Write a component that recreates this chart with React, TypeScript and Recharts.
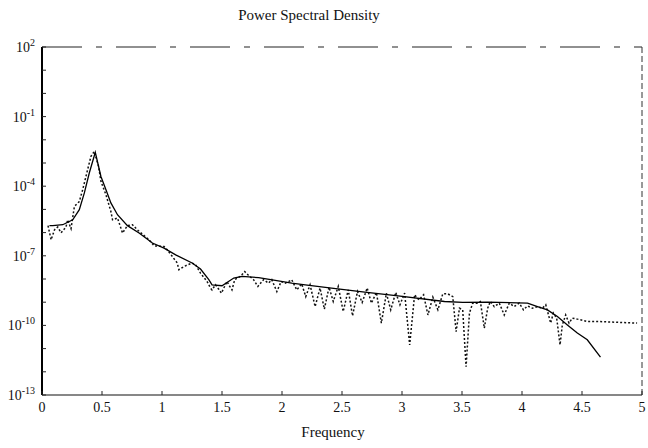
import React from "react";
import { LineChart, Line, XAxis, YAxis, ReferenceLine } from "recharts";

// frequency / log10(power) pairs
const modelFreq = [0.062, 0.09, 0.173, 0.256, 0.311, 0.353, 0.394, 0.444, 0.491, 0.533, 0.574, 0.629, 0.712, 0.809, 0.92, 1.017, 1.114, 1.251, 1.321, 1.39, 1.417, 1.5, 1.598, 1.666, 1.805, 1.944, 2.081, 2.193, 2.413, 2.69, 2.967, 3.354, 3.506, 3.714, 4.046, 4.129, 4.212, 4.295, 4.378, 4.461, 4.544, 4.654];
const modelLogPsd = [-5.7, -5.7, -5.66, -5.45, -5.01, -4.29, -3.43, -2.54, -3.58, -4.15, -4.72, -5.23, -5.7, -6.02, -6.45, -6.67, -6.96, -7.31, -7.57, -8.03, -8.25, -8.29, -7.96, -7.89, -7.94, -8.06, -8.18, -8.25, -8.39, -8.57, -8.73, -8.97, -9.01, -9.0, -9.04, -9.19, -9.33, -9.62, -9.98, -10.33, -10.62, -11.37];

const periodFreq = [0.05, 0.076, 0.104, 0.131, 0.159, 0.2, 0.214, 0.242, 0.27, 0.311, 0.339, 0.38, 0.408, 0.436, 0.471, 0.491, 0.533, 0.574, 0.588, 0.629, 0.657, 0.671, 0.712, 0.754, 0.795, 0.892, 0.934, 1.017, 1.044, 1.127, 1.141, 1.183, 1.251, 1.28, 1.321, 1.376, 1.404, 1.417, 1.446, 1.473, 1.495, 1.515, 1.542, 1.556, 1.583, 1.606, 1.653, 1.689, 1.716, 1.763, 1.799, 1.846, 1.888, 1.915, 1.957, 1.993, 2.027, 2.054, 2.081, 2.123, 2.164, 2.198, 2.234, 2.276, 2.317, 2.353, 2.392, 2.427, 2.469, 2.51, 2.552, 2.588, 2.629, 2.668, 2.71, 2.745, 2.787, 2.828, 2.87, 2.906, 2.948, 2.983, 3.022, 3.064, 3.105, 3.141, 3.18, 3.216, 3.257, 3.299, 3.34, 3.382, 3.423, 3.451, 3.479, 3.506, 3.534, 3.562, 3.589, 3.625, 3.653, 3.686, 3.714, 3.736, 3.769, 3.811, 3.852, 3.894, 3.935, 3.977, 4.012, 4.046, 4.087, 4.129, 4.17, 4.198, 4.239, 4.261, 4.289, 4.317, 4.336, 4.364, 4.392, 4.419, 4.461, 4.544, 4.627, 4.959];
const periodLogPsd = [-5.7, -6.31, -5.88, -5.76, -6.01, -5.76, -5.45, -5.83, -4.87, -4.66, -4.15, -3.29, -2.71, -2.5, -3.14, -3.79, -4.37, -5.09, -5.45, -5.37, -5.8, -6.02, -5.7, -5.66, -5.88, -6.31, -6.57, -6.6, -6.74, -7.31, -7.6, -7.46, -7.31, -7.39, -7.75, -8.11, -8.39, -8.47, -8.25, -8.44, -8.61, -8.39, -8.11, -8.25, -8.47, -8.03, -7.89, -7.68, -7.82, -8.03, -8.32, -8.03, -8.18, -8.03, -8.54, -8.11, -8.18, -8.11, -8.03, -8.47, -8.21, -8.76, -8.25, -9.19, -8.39, -9.3, -8.35, -8.97, -8.32, -9.4, -8.47, -9.59, -8.54, -9.01, -8.39, -9.04, -8.58, -9.9, -8.61, -9.33, -8.58, -9.11, -8.61, -10.84, -8.68, -8.9, -8.68, -9.55, -8.78, -9.33, -8.64, -8.64, -8.76, -10.27, -9.26, -9.33, -11.78, -9.47, -9.04, -9.04, -8.97, -10.12, -9.26, -8.97, -9.19, -9.04, -9.55, -9.04, -9.19, -9.04, -9.33, -9.16, -9.26, -9.19, -9.26, -9.11, -9.9, -9.47, -9.69, -10.84, -9.98, -9.55, -9.9, -9.69, -9.73, -9.83, -9.83, -9.9];

const xTicks = [0, 0.5, 1, 1.5, 2, 2.5, 3, 3.5, 4, 4.5, 5];
const yMajor = [2, -1, -4, -7, -10, -13];
const yMinor = [2, 1, 0, -1, -2, -3, -4, -5, -6, -7, -8, -9, -10, -11, -12, -13];

const modelData = modelFreq.map((f, i) => ({ f, p: modelLogPsd[i] }));
const periodData = periodFreq.map((f, i) => ({ f, p: periodLogPsd[i] }));

const serif = "'Liberation Serif', 'Times New Roman', serif";

const LeftTick = (props: any) => {
  const { x, y, payload } = props;
  const v = payload.value;
  return (
    <g>
      <line x1={x} x2={x + 4} y1={y} y2={y} stroke="#222" strokeWidth={1} />
      {yMajor.includes(v) && (
        <text x={x - 7} y={y + 5} textAnchor="end" fontFamily={serif} fontSize={14} fill="#111">
          10
          <tspan dy={-6} fontSize={10}>
            {v === 2 ? "2" : String(v)}
          </tspan>
        </text>
      )}
    </g>
  );
};

const RightTick = (props: any) => {
  const { x, y } = props;
  return <line x1={x - 4} x2={x} y1={y} y2={y} stroke="#444" strokeWidth={1} />;
};

const BottomTick = (props: any) => {
  const { x, y, payload } = props;
  return (
    <g>
      <line x1={x} x2={x} y1={y} y2={y - 4} stroke="#222" strokeWidth={1} />
      <text x={x} y={y + 17} textAnchor="middle" fontFamily={serif} fontSize={14} fill="#111">
        {String(payload.value)}
      </text>
    </g>
  );
};

const App = () => {
  return (
    <div style={{ position: "absolute", left: 0, top: 0, width: 648, height: 448, background: "#fff" }}>
      <div
        style={{
          position: "absolute",
          top: 7,
          left: 0,
          width: 618,
          textAlign: "center",
          fontFamily: serif,
          fontSize: 15,
          color: "#111",
        }}
      >
        Power Spectral Density
      </div>

      <LineChart width={648} height={448} margin={{ top: 47, right: 3, bottom: 0, left: 0 }}>
        <XAxis
          xAxisId="b"
          type="number"
          dataKey="f"
          domain={[0, 5]}
          ticks={xTicks}
          interval={0}
          height={53}
          tickSize={0}
          tickMargin={0}
          tick={<BottomTick />}
          axisLine={{ stroke: "#111", strokeWidth: 1.2 }}
          allowDataOverflow
        />
        <YAxis
          yAxisId="l"
          type="number"
          domain={[-13, 2]}
          ticks={yMinor}
          interval={0}
          width={42}
          tickSize={0}
          tickMargin={0}
          tick={<LeftTick />}
          axisLine={{ stroke: "#000", strokeWidth: 2 }}
          allowDataOverflow
        />
        <YAxis
          yAxisId="r"
          orientation="right"
          type="number"
          domain={[-13, 2]}
          ticks={yMinor}
          interval={0}
          width={3}
          tickSize={0}
          tickMargin={0}
          tick={<RightTick />}
          axisLine={{ stroke: "#333", strokeWidth: 1, strokeDasharray: "6 3" }}
        />
        <ReferenceLine
          xAxisId="b"
          yAxisId="l"
          y={2}
          stroke="#222"
          strokeWidth={1.2}
          strokeDasharray="40 14 6 14"
        />
        <Line
          xAxisId="b"
          yAxisId="l"
          data={periodData}
          dataKey="p"
          type="linear"
          stroke="#111"
          strokeWidth={1.5}
          strokeDasharray="2 2"
          dot={false}
          activeDot={false}
          isAnimationActive={false}
        />
        <Line
          xAxisId="b"
          yAxisId="l"
          data={modelData}
          dataKey="p"
          type="linear"
          stroke="#000"
          strokeWidth={1.3}
          dot={false}
          activeDot={false}
          isAnimationActive={false}
        />
      </LineChart>

      <div
        style={{
          position: "absolute",
          top: 424,
          left: 296,
          width: 74,
          textAlign: "center",
          fontFamily: serif,
          fontSize: 15,
          color: "#111",
        }}
      >
        Frequency
      </div>
    </div>
  );
};

export default App;
